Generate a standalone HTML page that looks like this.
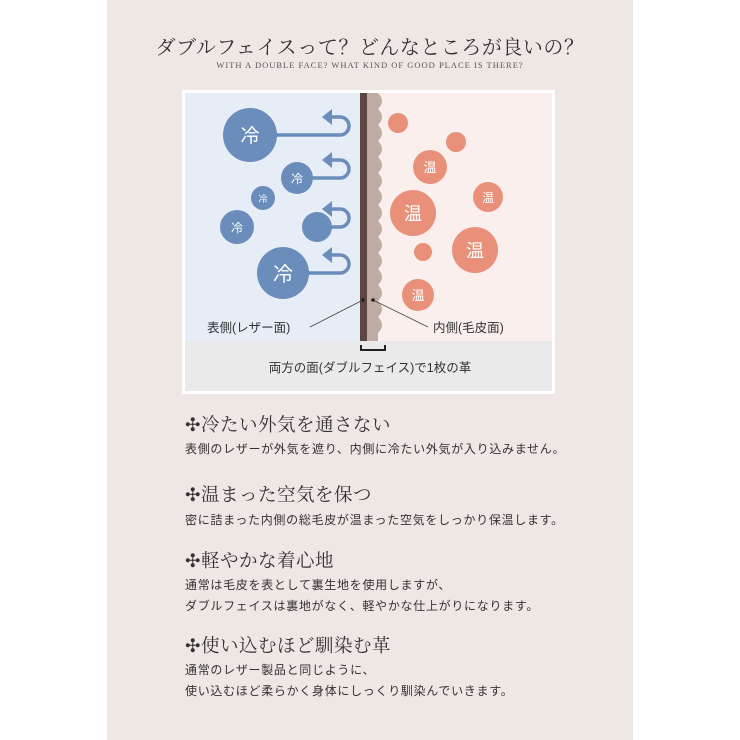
<!DOCTYPE html>
<html><head><meta charset="utf-8"><style>
body{margin:0;width:740px;height:740px;background:#fff;position:relative;overflow:hidden;font-family:"Liberation Sans","Noto Sans CJK JP",sans-serif;}
#panel{position:absolute;left:107px;top:0;width:526px;height:740px;background:#efe7e4;}
.t{position:absolute;white-space:nowrap;color:#333;}
.h{font-family:"Liberation Serif","Noto Serif CJK SC",serif;font-size:18.5px;letter-spacing:0.5px;color:#333;}
.b{font-size:12px;letter-spacing:0.7px;color:#333;}
</style></head><body>
<div id="panel"></div>
<div class="t" style="left:0;width:740px;text-align:center;top:31px;font-family:'Liberation Serif','Noto Serif CJK SC',serif;font-size:20px;letter-spacing:0.5px;color:#333;">ダブルフェイスって？どんなところが良いの？</div>
<div class="t" style="left:0;width:740px;text-align:center;top:60px;font-family:'Liberation Serif',serif;font-size:8.5px;letter-spacing:1px;color:#555;">WITH A DOUBLE FACE? WHAT KIND OF GOOD PLACE IS THERE?</div>
<svg style="position:absolute;left:0;top:0" width="740" height="740">
<rect x="182" y="90" width="373" height="304" fill="#fff"/>
<rect x="185" y="93" width="176" height="248" fill="#e6edf7"/>
<rect x="361" y="93" width="191" height="248" fill="#faefec"/>
<rect x="185" y="341" width="367" height="50" fill="#ebeaea"/>
<path d="M367 93 H378 q8 8 0 16 q8 8 0 16 q8 8 0 16 q8 8 0 16 q8 8 0 16 q8 8 0 16 q8 8 0 16 q8 8 0 16 q8 8 0 16 q8 8 0 16 q8 8 0 16 q8 8 0 16 q8 8 0 16 q8 8 0 16 q8 8 0 16 V341 H367Z" fill="#c0aaa4"/>
<rect x="360" y="93" width="7" height="248" fill="#5e4640"/>
<g stroke="#6a8dbb" stroke-width="3.5" fill="none">
<path d="M250 135 H340 a9 9 0 0 0 0 -18 H330"/>
<path d="M297 178 H340 a9 9 0 0 0 0 -18 H330"/>
<path d="M317 227 H340 a9 9 0 0 0 0 -18 H330"/>
<path d="M283 273 H340 a9 9 0 0 0 0 -18 H330"/>
</g>
<g fill="#6a8dbb">
<path d="M322 117 l10 -8 v16z"/><path d="M322 160 l10 -8 v16z"/><path d="M322 209 l10 -8 v16z"/><path d="M322 255 l10 -8 v16z"/>
<circle cx="250" cy="135" r="27"/><circle cx="297" cy="178" r="16"/><circle cx="263" cy="198" r="12"/><circle cx="237" cy="227" r="17"/><circle cx="317" cy="227" r="15"/><circle cx="283" cy="273" r="26"/>
</g>
<g fill="#e8907a">
<circle cx="398" cy="123" r="10"/><circle cx="456" cy="142" r="10"/><circle cx="430" cy="167" r="17"/><circle cx="488" cy="197" r="15"/><circle cx="413" cy="213" r="23"/><circle cx="475" cy="250" r="23"/><circle cx="423" cy="252" r="9"/><circle cx="418" cy="295" r="16"/>
</g>
<g fill="#fff" font-family="Liberation Sans,Noto Sans CJK JP,sans-serif" text-anchor="middle">
<text x="250" y="142" font-size="19">冷</text><text x="297" y="183" font-size="12">冷</text><text x="263" y="202" font-size="9">冷</text><text x="237" y="232" font-size="12">冷</text><text x="283" y="281" font-size="20">冷</text>
<text x="430" y="172" font-size="13">温</text><text x="488" y="202" font-size="12">温</text><text x="413" y="220" font-size="18">温</text><text x="475" y="257" font-size="18">温</text><text x="418" y="300" font-size="13">温</text>
</g>
<g stroke="#444" stroke-width="0.8"><line x1="363" y1="300" x2="310" y2="327"/><line x1="373" y1="300" x2="428" y2="327"/></g>
<circle cx="363" cy="300" r="1.8" fill="#222"/><circle cx="373" cy="300" r="1.8" fill="#222"/>
<path d="M361 345 V350 H385 V345" stroke="#222" stroke-width="2" fill="none"/>
<g font-family="Liberation Sans,Noto Sans CJK JP,sans-serif" font-size="12.5" fill="#333">
<text x="207" y="332">表側(レザー面)</text><text x="433" y="332">内側(毛皮面)</text>
<text x="370" y="372" text-anchor="middle">両方の面(ダブルフェイス)で1枚の革</text>
</g>
</svg>
<div class="t h" style="left:185px;top:411px;">✣冷たい外気を通さない</div>
<div class="t b" style="left:185px;top:440px;">表側のレザーが外気を遮り、内側に冷たい外気が入り込みません。</div>
<div class="t h" style="left:185px;top:481px;">✣温まった空気を保つ</div>
<div class="t b" style="left:185px;top:511px;">密に詰まった内側の総毛皮が温まった空気をしっかり保温します。</div>
<div class="t h" style="left:185px;top:547px;">✣軽やかな着心地</div>
<div class="t b" style="left:185px;top:576px;">通常は毛皮を表として裏生地を使用しますが、</div>
<div class="t b" style="left:185px;top:597px;">ダブルフェイスは裏地がなく、軽やかな仕上がりになります。</div>
<div class="t h" style="left:185px;top:632px;">✣使い込むほど馴染む革</div>
<div class="t b" style="left:185px;top:661px;">通常のレザー製品と同じように、</div>
<div class="t b" style="left:185px;top:682px;">使い込むほど柔らかく身体にしっくり馴染んでいきます。</div>
</body></html>
